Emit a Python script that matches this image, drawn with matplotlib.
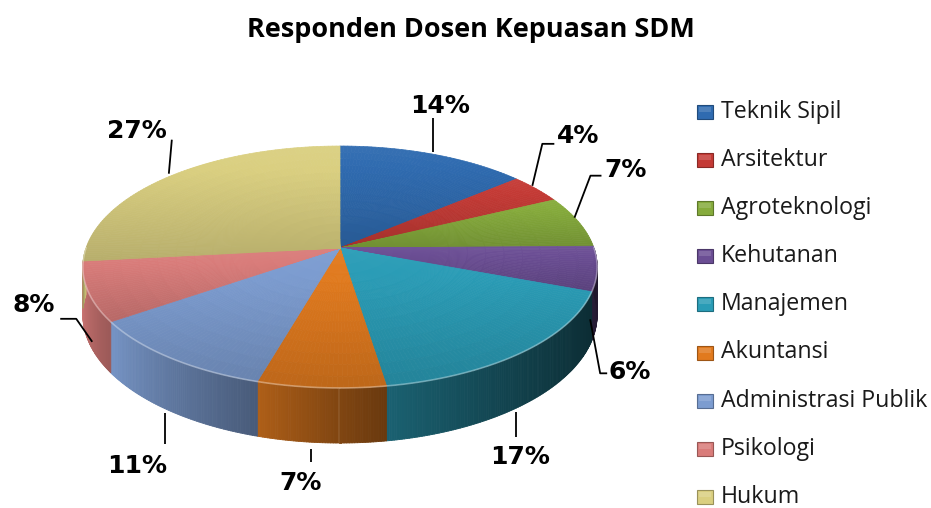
import numpy as np
import matplotlib
matplotlib.use("Agg")
import matplotlib.pyplot as plt
from matplotlib.collections import PolyCollection
from matplotlib.patches import Rectangle
from matplotlib.colors import to_rgb

# ---------------- data ----------------
title = "Responden Dosen Kepuasan SDM"
categories = ["Teknik Sipil", "Arsitektur", "Agroteknologi", "Kehutanan", "Manajemen",
              "Akuntansi", "Administrasi Publik", "Psikologi", "Hukum"]
percentages = [14, 4, 7, 6, 17, 7, 11, 8, 27]
colors = ["#2F6BB0", "#C43A35", "#86AB3C", "#6B4E94", "#2A9CB6",
          "#E17A1E", "#7C9CD0", "#D97C7A", "#DACF80"]

# ---------------- figure (pixel coordinates) ----------------
W, H = 931, 508
fig = plt.figure(figsize=(W / 100, H / 100), dpi=100)
ax = fig.add_axes([0, 0, 1, 1])
ax.set_xlim(0, W)
ax.set_ylim(H, 0)
ax.axis("off")

# 3D pie geometry (layout)
CX, CY = 340, 248
R, RY, DEPTH, K = 254, 118, 46.4, 0.157


def proj(theta_deg, r=1.0, z=0.0):
    t = np.radians(theta_deg)
    u = r * np.cos(t)
    w = -r * np.sin(t)
    p = 1.0 / (1.0 - K * w)
    return CX + R * u * p, CY + RY * w * p + z * DEPTH * p


def shade(c, f):
    c = np.array(to_rgb(c))
    if f >= 1:
        return tuple(np.clip(c + (1 - c) * (f - 1), 0, 1))
    return tuple(c * f)


vals = np.array(percentages, dtype=float)
frac = vals / vals.sum()
cum = np.concatenate([[0.0], np.cumsum(frac)])
starts = 90 - 360 * cum[:-1]
ends = 90 - 360 * cum[1:]

XMIN, XMAX = CX - R, CX + R

# ---- side walls (front half) ----
wall_polys, wall_cols = [], []
for i in range(len(vals)):
    lo = max(ends[i], -180.0)
    hi = min(starts[i], 0.0)
    if hi <= lo:
        continue
    n = max(4, int((hi - lo) / 0.5))
    th = np.linspace(lo, hi, n + 1)  # left -> right on screen
    for j in range(n):
        a, b = th[j], th[j + 1]
        x1, y1 = proj(a, 1, 0)
        x2, y2 = proj(b, 1, 0)
        x3, y3 = proj(b, 1, 1)
        x4, y4 = proj(a, 1, 1)
        tl = (j + 0.5) / n
        xm = (x1 + x2) / 2
        g = 0.98 - 0.6 * (xm - XMIN) / (XMAX - XMIN)
        f = g * (1.0 - 0.25 * tl)
        wall_polys.append([(x1, y1), (x2, y2), (x3, y3), (x4, y4)])
        wall_cols.append(shade(colors[i], f))
ax.add_collection(PolyCollection(wall_polys, facecolors=wall_cols, edgecolors=wall_cols,
                                 linewidths=0.6, antialiased=True))

# ---- top surfaces ----
top_polys, top_cols = [], []
for i in range(len(vals)):
    span = starts[i] - ends[i]
    na = max(3, int(span / 1.0))
    nr = 14
    th = np.linspace(starts[i], ends[i], na + 1)
    rr = np.linspace(0, 1, nr + 1)
    ys = [proj(t, 1)[1] for t in th] + [CY]
    ymin, ymax = min(ys), max(ys)
    for a in range(na):
        for b in range(nr):
            pts = [proj(th[a], rr[b]), proj(th[a + 1], rr[b]),
                   proj(th[a + 1], rr[b + 1]), proj(th[a], rr[b + 1])]
            ym = np.mean([p[1] for p in pts])
            tn = (ym - ymin) / max(ymax - ymin, 1)
            f = 1.04 - 0.2 * tn
            top_polys.append(pts)
            top_cols.append(shade(colors[i], f))
ax.add_collection(PolyCollection(top_polys, facecolors=top_cols, edgecolors=top_cols,
                                 linewidths=0.5, antialiased=True))

# rim highlight on the front edge
th = np.linspace(-180, 0, 300)
rx, ry = proj(th, 1, 0)
ax.plot(rx, ry, color="white", alpha=0.35, lw=1.2)

# ---- data labels with leader lines ----
# per label: leader points (offsets from anchor) and label centre offset
label_layout = [
    ([(-1, -2), (-1, -36)], (6, -50)),
    ([(-4, -3), (6, -45), (18, -45)], (42, -55)),
    ([(-4, -4), (12, -46), (23, -46)], (47, -54)),
    ([(-7, 3), (3, 57), (10, 57)], (33, 54)),
    ([(-7, 7), (-7, 32)], (-3, 50)),
    ([(-10, 6), (-10, 19)], (-21, 38)),
    ([(-5, 2), (-5, 33)], (-33, 53)),
    ([(4, 1), (-12, -22), (-28, -22)], (-55, -38)),
    ([(0, -3), (3, -37)], (-32, -48)),
]
for i in range(len(vals)):
    mid = (starts[i] + ends[i]) / 2
    front = -180 <= mid <= 0
    axx, ayy = proj(mid, 1, 1 if front else 0)
    pts, lab = label_layout[i]
    xs = [axx + p[0] for p in pts]
    ys = [ayy + p[1] for p in pts]
    ax.plot(xs, ys, color="black", lw=1.3, solid_capstyle="butt")
    ax.text(axx + lab[0], ayy + lab[1] + 9, f"{percentages[i]}%", ha="center", va="baseline",
            fontsize=18, fontweight="bold", family="DejaVu Sans", color="black")

# ---- title ----
renderer = fig.canvas.get_renderer()
t = ax.text(471, 37, title, ha="center", va="baseline", fontsize=20, fontweight="bold",
            family="Open Sans", color="black")
w = t.get_window_extent(renderer).width
t.set_fontsize(20 * 447 / w)

# ---- legend ----
ly0, lstep = 111, 48.1
fs = 16
texts = []
for i, name in enumerate(categories):
    y = ly0 + i * lstep
    ax.add_patch(Rectangle((697, y - 6), 16, 14, facecolor=colors[i],
                           edgecolor=shade(colors[i], 0.7), lw=0.8))
    ax.add_patch(Rectangle((699, y - 4), 12, 5, facecolor=shade(colors[i], 1.25),
                           edgecolor="none", alpha=0.6))
    tt = ax.text(721, y + 7, name, ha="left", va="baseline", fontsize=fs,
                 family="Open Sans", color="#1a1a1a")
    texts.append(tt)
w = texts[6].get_window_extent(renderer).width
for tt in texts:
    tt.set_fontsize(fs * 207 / w)

fig.savefig("out.png", dpi=100, facecolor="white")
